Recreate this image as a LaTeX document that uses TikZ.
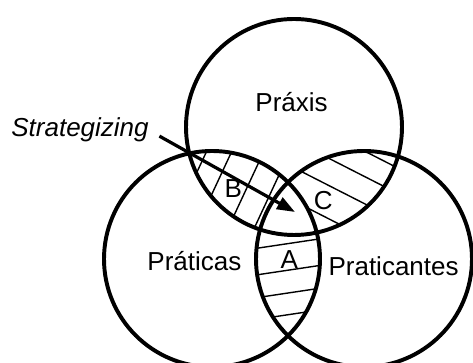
\documentclass[tikz,border=0pt]{standalone}
\usepackage{fontspec}
\setmainfont{Liberation Sans}
\usetikzlibrary{arrows.meta}

\begin{document}
\begin{tikzpicture}[
    >=Latex,
    ring/.style={line width=2.8pt},
    hatch/.style={line width=1pt},
    lbl/.style={anchor=base, inner sep=0pt, font=\fontsize{18.5}{22}\selectfont},
    arr/.style={-{Triangle[length=0.45cm, width=0.32cm]}, line width=2.3pt, shorten <=0.3cm}
  ]
    \useasboundingbox (0,0) rectangle (11.825,9.075);
    \coordinate (ctop) at (7.35,5.9);
    \coordinate (cleft) at (5.3,2.6);
    \coordinate (cright) at (9.1,2.6);

    % hatching in the three pairwise overlaps
    \begin{scope}
      \clip (ctop) circle (2.7);
      \clip (cleft) circle (2.7);
      \foreach \x/\y in {5.17/5.3, 5.79/5.28, 6.42/4.91, 6.92/4.58}
        \draw[hatch] (\x,\y) ++(245:2) -- ++(65:4);
    \end{scope}
    \begin{scope}
      \clip (ctop) circle (2.7);
      \clip (cright) circle (2.7);
      \foreach \x/\y in {9.52/5.09, 8.96/4.74, 8.43/4.33, 8.11/3.66}
        \draw[hatch] (\x,\y) ++(153:2) -- ++(-27:4);
    \end{scope}
    \begin{scope}
      \clip (cleft) circle (2.7);
      \clip (cright) circle (2.7);
      \foreach \x/\y in {7.17/2.98, 7.27/2.33, 7.27/1.76, 7.29/1.22}
        \draw[hatch] (\x,\y) ++(188.5:2) -- ++(8.5:4);
    \end{scope}
    % keep the middle blank
    \begin{scope}
      \clip (ctop) circle (2.7);
      \clip (cleft) circle (2.7);
      \fill[white] (cright) circle (2.7);
    \end{scope}

    \draw[ring] (ctop) circle (2.7);
    \draw[ring] (cleft) circle (2.7);
    \draw[ring] (cright) circle (2.7);

    \node[lbl] (praxis) at (7.29,6.275) {Práxis};
    \node[lbl] (praticas) at (4.86,2.30) {Práticas};
    \node[lbl] (praticantes) at (9.84,2.175) {Praticantes};
    \node[lbl] (regA) at (7.23,2.37) {A};
    \node[lbl] (regB) at (5.83,4.13) {B};
    \node[lbl] (regC) at (8.08,3.825) {C};
    \node[lbl, font=\fontsize{18.5}{22}\selectfont\itshape] (strat) at (2.0,5.65) {Strategizing};

    \coordinate (tip) at (7.375,3.775);
    \draw[arr] (strat.east) -- (tip);
  \end{tikzpicture}
\end{document}
